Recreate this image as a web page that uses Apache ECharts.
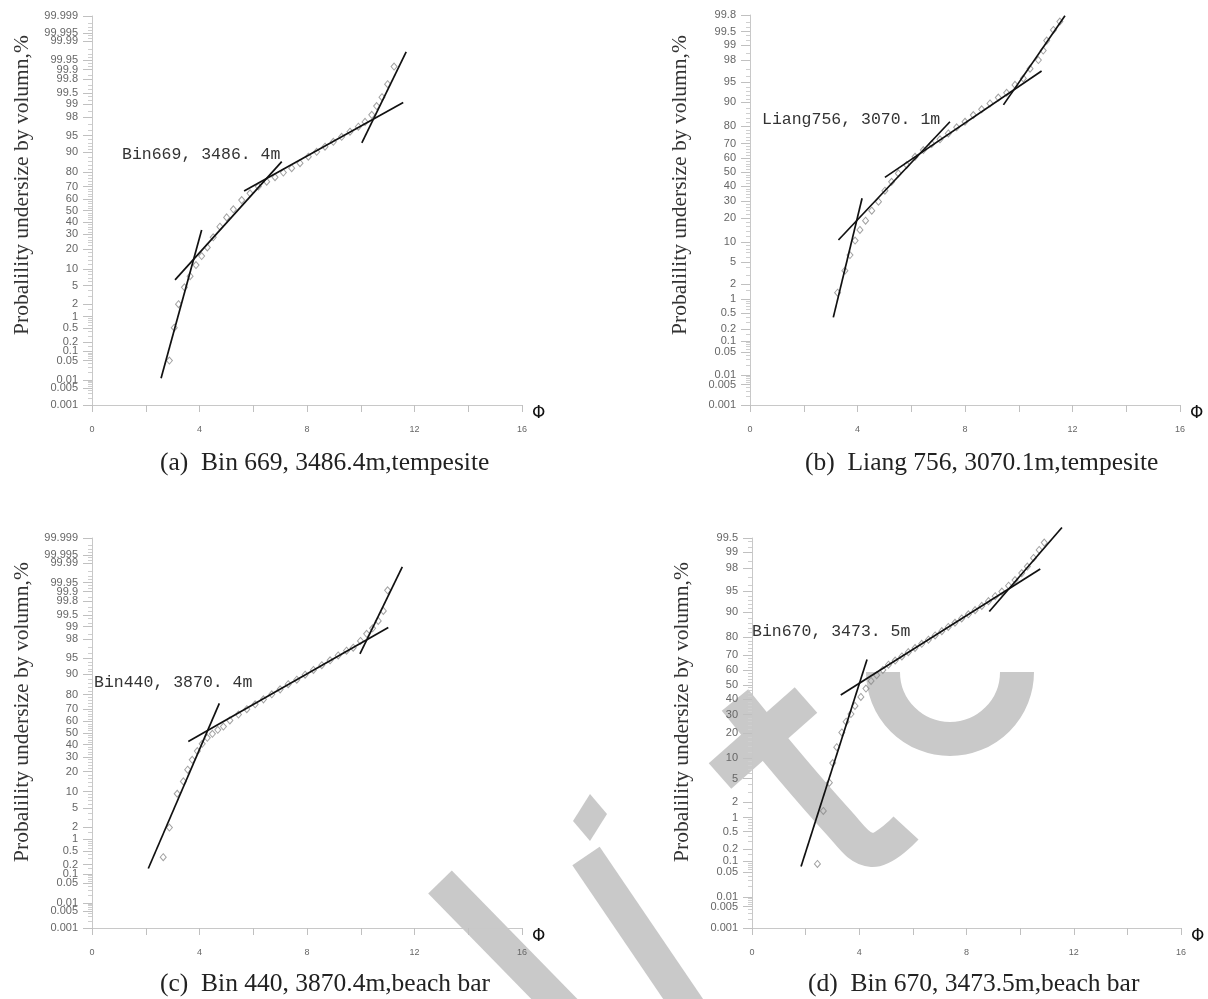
<!DOCTYPE html>
<html>
<head>
<meta charset="utf-8">
<title>Probability cumulative curves</title>
<script src="https://cdn.jsdelivr.net/npm/echarts@6/dist/echarts.min.js"></script>
<style>
html,body{margin:0;padding:0;background:#fff;}
#main{width:1208px;height:999px;}
</style>
</head>
<body>
<div id="main"></div>
<script>
// grain size axis (phi)
var phiLabels = [0, 4, 8, 12, 16];

// probability paper labels, cumulative %
var probLabels = ['0.001','0.005','0.01','0.05','0.1','0.2','0.5','1','2','5','10','20','30','40','50',
  '60','70','80','90','95','98','99','99.5','99.8','99.9','99.95','99.99','99.995','99.999'];
var probMinor = [0.002,0.003,0.004,0.006,0.007,0.008,0.009,0.02,0.03,0.04,0.06,0.07,0.08,0.09,0.15,0.3,0.4,
  0.6,0.7,0.8,0.9,1.5,3,4,6,7,8,9,12,14,16,18,22,24,26,28,32,34,36,38,42,44,46,48,52,54,56,58,62,64,66,68,
  72,74,76,78,82,84,86,88,91,92,93,94,96,97,98.5,99.2,99.4,99.6,99.7,99.85,99.92,99.94,99.96,99.97,99.98,
  99.992,99.994,99.996,99.997,99.998];

// top of each probability axis (%)
var axisTop = [99.999, 99.8, 99.999, 99.5];

// (a) Bin 669, 3486.4m  [phi, cumulative %]
var pointsA = [[2.88,0.05],[3.06,0.51],[3.22,2.0],[3.44,4.6],[3.65,7.5],[3.87,11.6],[4.08,15.9],[4.29,20.9],
  [4.51,27.8],[4.76,36.1],[5.01,44],[5.26,51],[5.57,59],[5.88,64.7],[6.19,70],[6.5,73.6],[6.81,76.7],
  [7.12,79.7],[7.43,82.3],[7.74,85],[8.05,88.1],[8.36,90.1],[8.67,91.9],[8.98,93.4],[9.29,94.7],[9.6,95.8],
  [9.91,96.7],[10.16,97.4],[10.41,98.2],[10.59,98.9],[10.79,99.35],[11.0,99.72],[11.24,99.92]];
var linesA = [[[2.57,0.0117],[4.08,33.4]], [[3.09,6.4],[7.06,85.8]], [[5.66,66.6],[11.58,99.1]],
  [[10.04,93.1],[11.69,99.975]]];

// (b) Liang 756, 3070.1m
var pointsB = [[3.26,1.36],[3.53,3.55],[3.72,6.45],[3.91,10.5],[4.09,14.5],[4.30,18.7],[4.53,24],[4.78,29.4],
  [5.02,36.7],[5.27,43],[5.52,49.1],[5.83,55.2],[6.14,61.1],[6.45,65.7],[6.76,69.7],[7.07,72.6],[7.38,76.1],
  [7.69,79.4],[8.0,82.2],[8.31,85.2],[8.62,87.5],[8.93,89.6],[9.24,91.4],[9.55,92.7],[9.86,94.5],[10.17,95.7],
  [10.42,97.1],[10.73,98.0],[10.91,98.7],[11.04,99.2],[11.29,99.54],[11.53,99.71]];
var linesB = [[[3.10,0.39],[4.17,31.6]], [[3.29,10.7],[7.44,82.2]], [[5.02,46.2],[10.85,96.8]],
  [[9.43,89.1],[11.72,99.79]]];

// (c) Bin 440, 3870.4m
var pointsC = [[2.65,0.33],[2.88,1.93],[3.17,9.2],[3.40,14.5],[3.56,21.1],[3.73,27.9],[3.92,34.6],[4.10,40.7],
  [4.29,45.8],[4.48,49.3],[4.68,52.8],[4.89,55.6],[5.13,60.8],[5.45,65.7],[5.76,69.9],[6.07,73.5],[6.38,76.9],
  [6.69,80.1],[7.0,83.0],[7.30,85.7],[7.62,87.8],[7.93,89.9],[8.24,91.6],[8.55,93.1],[8.86,94.4],[9.16,95.5],
  [9.47,96.4],[9.72,96.9],[9.99,97.8],[10.22,98.5],[10.44,98.9],[10.65,99.29],[10.84,99.62],[11.0,99.91]];
var linesC = [[[2.095,0.152],[4.737,74.2]], [[3.583,42.7],[11.025,98.95]], [[9.97,95.8],[11.546,99.986]]];

// (d) Bin 670, 3473.5m
var pointsD = [[2.44,0.084],[2.66,1.35],[2.885,4.3],[3.01,8.5],[3.16,13.7],[3.35,20.2],[3.51,25.9],[3.69,30.4],
  [3.84,35.6],[4.06,41.6],[4.25,47.4],[4.44,52.7],[4.65,56.7],[4.88,60.3],[5.09,63.8],[5.34,66.5],[5.59,69.1],
  [5.83,71.7],[6.08,74.1],[6.33,76.4],[6.58,78.6],[6.83,80.7],[7.08,82.7],[7.32,84.5],[7.57,86.2],[7.82,87.8],
  [8.07,89.2],[8.32,90.5],[8.57,91.7],[8.82,92.9],[9.07,94.0],[9.32,94.9],[9.57,95.9],[9.81,96.7],[10.06,97.5],
  [10.27,98.1],[10.5,98.7],[10.71,99.1],[10.90,99.37]];
var linesD = [[[1.83,0.0716],[4.29,67.1]], [[3.31,43.0],[10.75,97.9]], [[8.85,90.1],[11.56,99.71]]];

var sampleNames = ['Bin669, 3486. 4m', 'Liang756, 3070. 1m', 'Bin440, 3870. 4m', 'Bin670, 3473. 5m'];
var captions = ['(a)  Bin 669, 3486.4m,tempesite', '(b)  Liang 756, 3070.1m,tempesite',
  '(c)  Bin 440, 3870.4m,beach bar', '(d)  Bin 670, 3473.5m,beach bar'];

// inverse normal cdf (probability paper scale)
function probit(p) {
  var a = [-3.969683028665376e+01, 2.209460984245205e+02, -2.759285104469687e+02, 1.383577518672690e+02, -3.066479806614716e+01, 2.506628277459239e+00];
  var b = [-5.447609879822406e+01, 1.615858368580409e+02, -1.556989798598866e+02, 6.680131188771972e+01, -1.328068155288572e+01];
  var c = [-7.784894002430293e-03, -3.223964580411365e-01, -2.400758277161838e+00, -2.549732539343734e+00, 4.374664141464968e+00, 2.938163982698783e+00];
  var d = [7.784695709041462e-03, 3.224671290700398e-01, 2.445134137142996e+00, 3.754408661907416e+00];
  var q, r;
  if (p < 0.02425) {
    q = Math.sqrt(-2 * Math.log(p));
    return (((((c[0]*q+c[1])*q+c[2])*q+c[3])*q+c[4])*q+c[5]) / ((((d[0]*q+d[1])*q+d[2])*q+d[3])*q+1);
  }
  if (p > 1 - 0.02425) {
    q = Math.sqrt(-2 * Math.log(1 - p));
    return -(((((c[0]*q+c[1])*q+c[2])*q+c[3])*q+c[4])*q+c[5]) / ((((d[0]*q+d[1])*q+d[2])*q+d[3])*q+1);
  }
  q = p - 0.5; r = q * q;
  return (((((a[0]*r+a[1])*r+a[2])*r+a[3])*r+a[4])*r+a[5])*q / (((((b[0]*r+b[1])*r+b[2])*r+b[3])*r+b[4])*r+1);
}
function zp(pct) { return probit(pct / 100); }
function toXY(arr) { return arr.map(function (d) { return [d[0], zp(d[1])]; }); }

var panels = [
  { pts: pointsA, lines: linesA, grid: { left: 92, top: 16, width: 430, height: 389 }, nameShift: 51,
    note: [122, 155], cap: [160, 464] },
  { pts: pointsB, lines: linesB, grid: { left: 750, top: 15, width: 430, height: 390 }, nameShift: 50,
    note: [762, 120], cap: [805, 464] },
  { pts: pointsC, lines: linesC, grid: { left: 92, top: 538, width: 430, height: 390 }, nameShift: 42,
    note: [94, 683], cap: [160, 985] },
  { pts: pointsD, lines: linesD, grid: { left: 752, top: 538, width: 429, height: 390 }, nameShift: 42,
    note: [752, 632], cap: [808, 985] }
];

var grids = [], xAxes = [], yAxes = [], series = [], graphics = [];
var labelFont = 'Liberation Sans, Arial, sans-serif';

panels.forEach(function (pn, i) {
  grids.push(pn.grid);
  var zMin = zp(0.001), zMax = zp(axisTop[i]);
  var labs = probLabels.filter(function (s) { return parseFloat(s) <= axisTop[i] + 1e-9; });
  var labVals = labs.map(function (s) { return zp(parseFloat(s)); });
  var minorVals = probMinor.filter(function (v) { return v < axisTop[i]; }).map(zp);

  xAxes.push({
    gridIndex: i, type: 'value', min: 0, max: 16, interval: 2,
    name: 'Φ', nameLocation: 'end', nameGap: 10,
    nameTextStyle: { fontSize: 17, color: '#111', fontFamily: 'DejaVu Sans', verticalAlign: 'top' },
    axisLine: { onZero: false, lineStyle: { color: '#c8c8c8', width: 1 } },
    axisTick: { length: 7, lineStyle: { color: '#c0c0c0' } },
    axisLabel: { customValues: phiLabels, margin: 20, fontSize: 9, color: '#666', fontFamily: labelFont },
    splitLine: { show: false }
  });

  yAxes.push({
    gridIndex: i, type: 'value', position: 'left', min: zMin, max: zMax,
    name: 'Probalility undersize by volumn,%', nameLocation: 'middle', nameGap: 59,
    nameTextStyle: { fontSize: 21.5, color: '#333', fontFamily: 'Liberation Serif, Times New Roman, serif',
      padding: [0, 0, 0, pn.nameShift] },
    axisLine: { show: true, onZero: false, lineStyle: { color: '#c8c8c8', width: 1 } },
    axisTick: { show: true, customValues: labVals, length: 9, lineStyle: { color: '#c0c0c0' } },
    axisLabel: {
      customValues: labVals, margin: 14, fontSize: 11, color: '#666', fontFamily: labelFont,
      formatter: function (v) {
        for (var k = 0; k < labVals.length; k++) { if (Math.abs(labVals[k] - v) < 1e-6) return labs[k]; }
        return '';
      }
    },
    splitLine: { show: false }
  });
  yAxes.push({
    gridIndex: i, type: 'value', position: 'left', min: zMin, max: zMax,
    axisLine: { show: false, onZero: false },
    axisTick: { show: true, customValues: minorVals, length: 4, lineStyle: { color: '#cfcfcf' } },
    axisLabel: { show: false },
    splitLine: { show: false }
  });

  series.push({
    type: 'scatter', xAxisIndex: i, yAxisIndex: 2 * i, data: toXY(pn.pts),
    symbol: 'diamond', symbolSize: [6, 7], silent: true,
    itemStyle: { color: 'rgba(255,255,255,0)', borderColor: '#8a8a8a', borderWidth: 1 }
  });
  pn.lines.forEach(function (ln) {
    series.push({
      type: 'line', xAxisIndex: i, yAxisIndex: 2 * i, data: toXY(ln), symbol: 'none', clip: false,
      silent: true, lineStyle: { color: '#111', width: 1.7 }, z: 3
    });
  });

  graphics.push({
    type: 'text', left: pn.note[0], top: pn.note[1] - 9,
    style: { text: sampleNames[i], fill: '#333', font: '16.5px "Liberation Mono", monospace' }
  });
  graphics.push({
    type: 'text', left: pn.cap[0], top: pn.cap[1] - 14,
    style: { text: captions[i], fill: '#222', font: '25.5px "Liberation Serif", "Times New Roman", serif' }
  });
});

// grey watermark strokes behind the charts
var wm = '#c9c9c9';
[
  { type: 'line', shape: { x1: 440, y1: 882, x2: 570, y2: 1015 }, style: { stroke: wm, lineWidth: 33 } },
  { type: 'polygon', shape: { points: [[590, 794], [607, 814], [590, 841], [573, 821]] }, style: { fill: wm } },
  { type: 'line', shape: { x1: 586, y1: 856, x2: 694, y2: 1015 }, style: { stroke: wm, lineWidth: 33 } },
  { type: 'polyline', shape: { points: [[735, 700], [840, 824], [872, 850], [906, 828]], smooth: 0.4 },
    style: { stroke: wm, lineWidth: 34, fill: null } },
  { type: 'line', shape: { x1: 720, y1: 776, x2: 806, y2: 700 }, style: { stroke: wm, lineWidth: 34 } },
  { type: 'arc', shape: { cx: 950, cy: 672, r: 67, startAngle: 0, endAngle: Math.PI, clockwise: true },
    style: { stroke: wm, lineWidth: 34, fill: null } }
].forEach(function (g) { g.z = -10; g.silent = true; graphics.push(g); });

var chart = echarts.init(document.getElementById('main'), null, { renderer: 'canvas' });
chart.setOption({
  backgroundColor: '#fff',
  animation: false,
  grid: grids,
  xAxis: xAxes,
  yAxis: yAxes,
  series: series,
  graphic: graphics
});
</script>
</body>
</html>
